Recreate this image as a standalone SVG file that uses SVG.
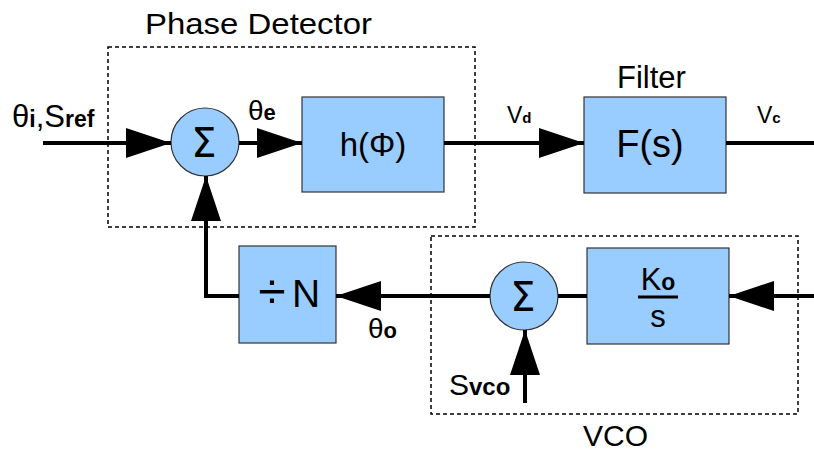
<svg xmlns="http://www.w3.org/2000/svg" width="814" height="455" viewBox="0 0 814 455">
<style>
text{font-family:"Liberation Sans",Arial,sans-serif;fill:#000}
.blk{fill:#99ccff;stroke:#333;stroke-width:1.2}
.dash{fill:none;stroke:#000;stroke-width:1.5;stroke-dasharray:4 3}
.wire{fill:none;stroke:#000;stroke-width:4}
.b{font-weight:bold}
.sig{font-family:"DejaVu Sans",sans-serif;font-size:40px}
</style>
<defs>
<marker id="ah" markerUnits="userSpaceOnUse" markerWidth="45" markerHeight="30" refX="45" refY="15" orient="auto" viewBox="0 0 45 30">
<path d="M0,0 L45,15 L0,30 Z" fill="#000"/>
</marker>
</defs>
<g id="phase-detector-frame">
<rect class="dash" x="108" y="47" width="367" height="180"/>
<text x="145" y="34" font-size="30" textLength="227" lengthAdjust="spacingAndGlyphs">Phase Detector</text>
</g>
<g id="vco-frame">
<rect class="dash" x="431" y="236" width="367" height="178"/>
<text x="583" y="446" font-size="30">VCO</text>
</g>
<g id="sum1">
<circle class="blk" cx="205" cy="142" r="34"/>
<text class="sig" x="204" y="157" text-anchor="middle">Σ</text>
</g>
<g id="h-phi">
<rect class="blk" x="302" y="97" width="142" height="95"/>
<text x="373" y="156" font-size="33" text-anchor="middle">h(Φ)</text>
</g>
<g id="filter">
<rect class="blk" x="584" y="97" width="142" height="96"/>
<text x="650" y="157" font-size="38" text-anchor="middle">F(s)</text>
<text x="617" y="88" font-size="31">Filter</text>
</g>
<g id="divider">
<rect class="blk" x="239" y="246" width="97" height="97"/>
<text x="272" y="308" font-family="DejaVu Sans,sans-serif" font-size="50" text-anchor="middle">÷</text>
<text x="292" y="307" font-size="39">N</text>
</g>
<g id="sum2">
<circle class="blk" cx="524" cy="296" r="34"/>
<text class="sig" x="523" y="311" text-anchor="middle">Σ</text>
</g>
<g id="ko-s">
<rect class="blk" x="587" y="248" width="142" height="96"/>
<text x="658" y="290" font-size="31" text-anchor="middle">K<tspan class="b" font-size="23">o</tspan></text>
<line x1="638" y1="297" x2="678" y2="297" stroke="#000" stroke-width="3"/>
<text x="658" y="327" font-size="31" text-anchor="middle">s</text>
</g>
<g id="connectors">
<path class="wire" d="M43,143 H171" marker-end="url(#ah)"/>
<path class="wire" d="M239,143 H302" marker-end="url(#ah)"/>
<path class="wire" d="M444,143 H584" marker-end="url(#ah)"/>
<path class="wire" d="M726,143 H814"/>
<path class="wire" d="M814,296 H729" marker-end="url(#ah)"/>
<path class="wire" d="M587,296 H558"/>
<path class="wire" d="M490,296 H336" marker-end="url(#ah)"/>
<path class="wire" d="M239,296 H206 V176" marker-end="url(#ah)"/>
<path class="wire" d="M525,403 V330" marker-end="url(#ah)"/>
</g>
<g id="labels">
<text x="12" y="127" font-size="31">θ<tspan class="b" font-size="23">i</tspan>,S<tspan class="b" font-size="23">ref</tspan></text>
<text x="248" y="120" font-size="28">θ<tspan class="b" font-size="22">e</tspan></text>
<text x="507" y="123" font-size="23">V<tspan class="b" font-size="15">d</tspan></text>
<text x="757" y="123" font-size="23">V<tspan class="b" font-size="15">c</tspan></text>
<text x="368" y="338" font-size="28">θ<tspan class="b" font-size="22">o</tspan></text>
<text x="449" y="395" font-size="30">S<tspan class="b" font-size="24">vco</tspan></text>
</g>
</svg>
